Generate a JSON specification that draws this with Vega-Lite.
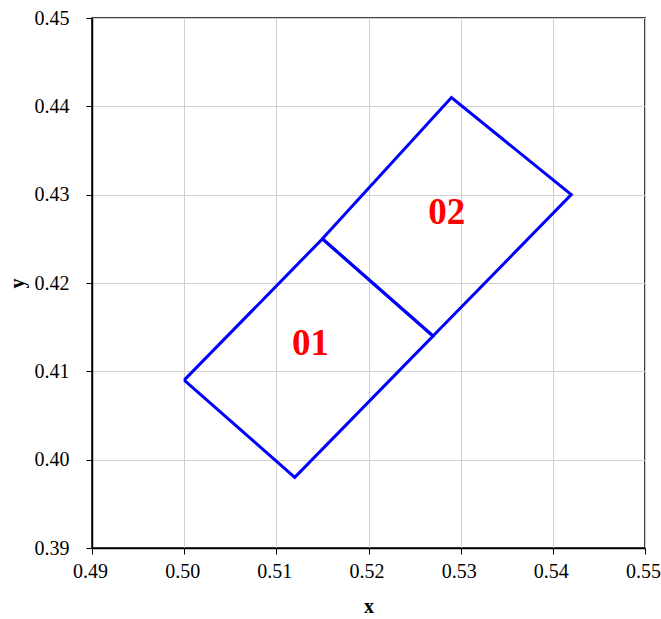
{
  "$schema": "https://vega.github.io/schema/vega-lite/v6.json",
  "width": 553,
  "height": 530,
  "autosize": {"type": "none"},
  "padding": {"left": 92, "top": 18, "right": 16, "bottom": 71},
  "background": "white",
  "config": {
    "font": "Liberation Serif",
    "view": {"stroke": "#000000", "strokeWidth": 1.5}
  },
  "datasets": {
    "quads": [
      {"quad": "01", "ord": 1, "x": 0.500, "y": 0.409},
      {"quad": "01", "ord": 2, "x": 0.512, "y": 0.398},
      {"quad": "01", "ord": 3, "x": 0.527, "y": 0.414},
      {"quad": "01", "ord": 4, "x": 0.515, "y": 0.425},
      {"quad": "01", "ord": 5, "x": 0.500, "y": 0.409},
      {"quad": "02", "ord": 1, "x": 0.515, "y": 0.425},
      {"quad": "02", "ord": 2, "x": 0.527, "y": 0.414},
      {"quad": "02", "ord": 3, "x": 0.542, "y": 0.430},
      {"quad": "02", "ord": 4, "x": 0.529, "y": 0.441},
      {"quad": "02", "ord": 5, "x": 0.515, "y": 0.425}
    ],
    "labels": [
      {"label": "01", "x": 0.5137, "y": 0.4131},
      {"label": "02", "x": 0.5285, "y": 0.4279}
    ]
  },
  "layer": [
    {
      "data": {"name": "quads"},
      "mark": {"type": "line", "color": "#0000ff", "strokeWidth": 3},
      "encoding": {
        "x": {
          "field": "x", "type": "quantitative",
          "scale": {"domain": [0.49, 0.55], "nice": false, "zero": false},
          "axis": {
            "values": [0.49, 0.50, 0.51, 0.52, 0.53, 0.54, 0.55], "format": ".2f",
            "title": "x", "titlePadding": 15,
            "labelFont": "Liberation Serif", "labelFontSize": 20, "labelColor": "#000000", "labelPadding": 7, "labelFlush": false, "labelOffset": -2,
            "titleFont": "Liberation Serif", "titleFontSize": 20, "titleFontWeight": "bold", "titleColor": "#000000",
            "domainColor": "#000000", "domainWidth": 1.5, "tickColor": "#000000", "tickSize": 6,
            "gridColor": "#d0d0d0", "gridWidth": 1
          }
        },
        "y": {
          "field": "y", "type": "quantitative",
          "scale": {"domain": [0.39, 0.45], "nice": false, "zero": false},
          "axis": {
            "values": [0.39, 0.40, 0.41, 0.42, 0.43, 0.44, 0.45], "format": ".2f",
            "title": "y", "titlePadding": 7,
            "labelFont": "Liberation Serif", "labelFontSize": 20, "labelColor": "#000000", "labelPadding": 17, "labelFlush": false,
            "titleFont": "Liberation Serif", "titleFontSize": 20, "titleFontWeight": "bold", "titleColor": "#000000",
            "domainColor": "#000000", "domainWidth": 1.5, "tickColor": "#000000", "tickSize": 6,
            "gridColor": "#d0d0d0", "gridWidth": 1
          }
        },
        "detail": {"field": "quad"},
        "order": {"field": "ord", "type": "quantitative"}
      }
    },
    {
      "data": {"name": "labels"},
      "mark": {"type": "text", "color": "#ff0000", "font": "Liberation Serif", "fontWeight": "bold", "fontSize": 37, "baseline": "middle", "align": "center"},
      "encoding": {
        "x": {"field": "x", "type": "quantitative"},
        "y": {"field": "y", "type": "quantitative"},
        "text": {"field": "label"}
      }
    }
  ]
}
